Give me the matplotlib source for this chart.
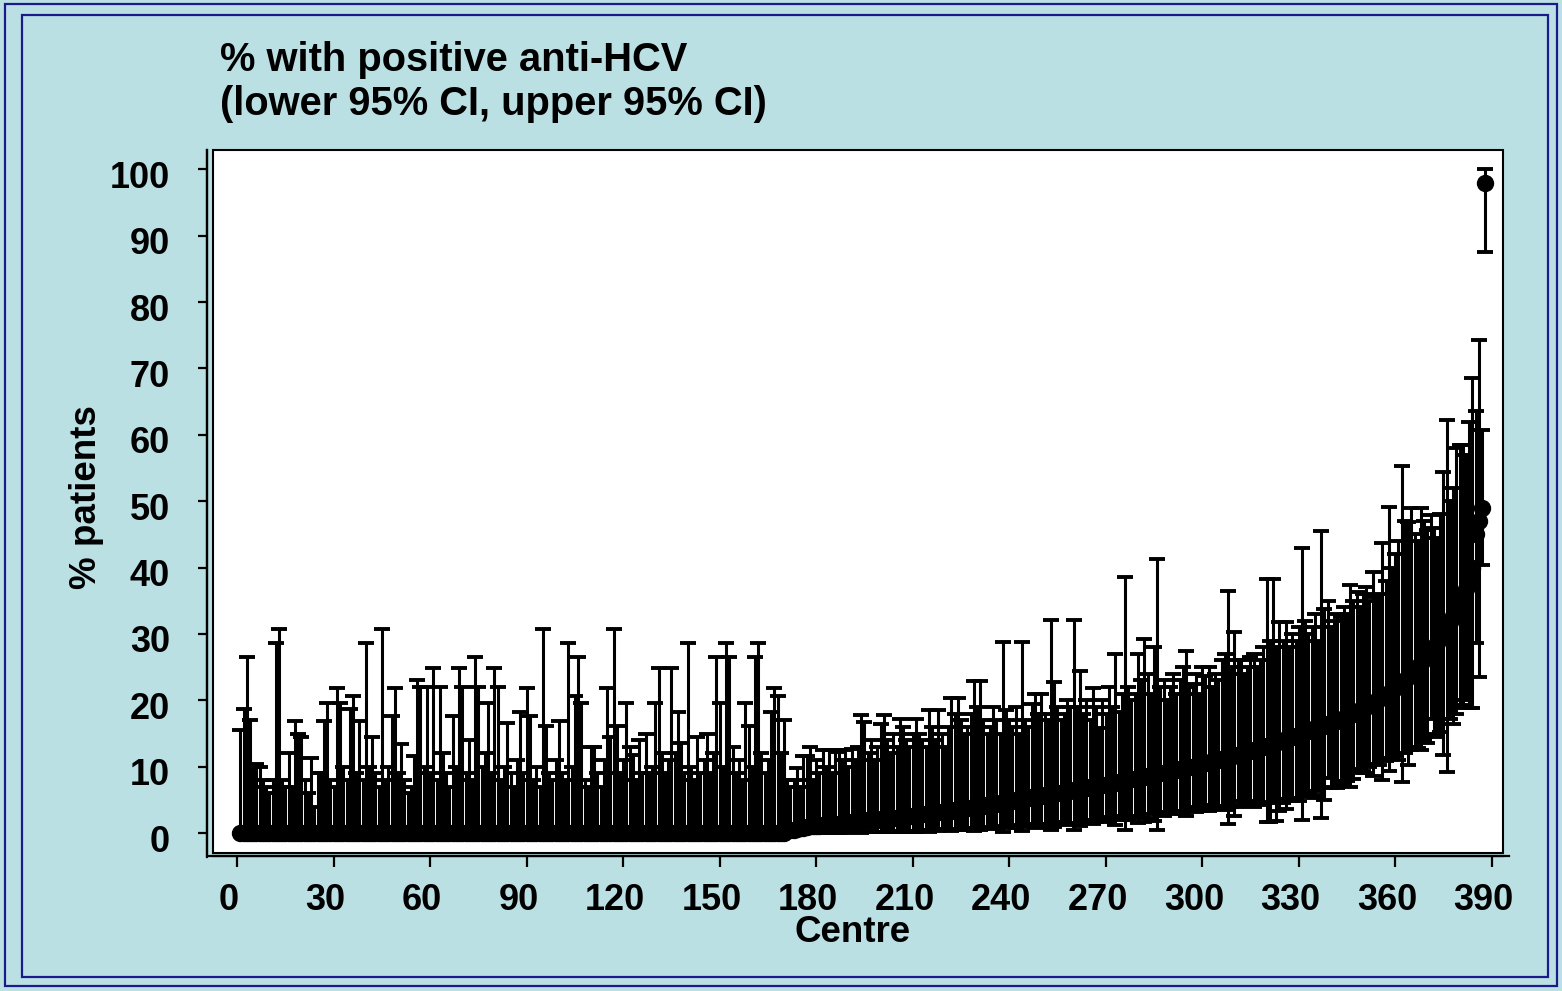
import numpy as np
import matplotlib
matplotlib.use("Agg")
import matplotlib.pyplot as plt
from matplotlib.lines import Line2D
from matplotlib.patches import Rectangle
from matplotlib.transforms import ScaledTranslation

plt.rcParams['font.family'] = ['Liberation Sans', 'DejaVu Sans']
plt.rcParams['font.weight'] = 'bold'

# ---------------- data ----------------
n_zero = 170                      # centres 1..170: 0% positive (point and lower CI at 0)
upper_zero = [
    15.6, 18.7, 26.5, 17.0, 10.0, 10.4, 10.0, 8.0, 7.0, 6.0,
    8.0, 28.6, 30.8, 8.0, 7.0, 12.0, 7.0, 16.9, 15.0, 14.4,
    8.0, 6.0, 11.3, 4.0, 9.0, 9.1, 16.9, 19.6, 8.0, 7.0,
    21.8, 19.6, 10.0, 8.0, 18.7, 20.6, 9.0, 16.9, 8.0, 28.6,
    10.0, 14.4, 9.0, 7.0, 30.8, 8.0, 10.0, 17.7, 21.8, 9.0,
    13.4, 8.0, 6.0, 7.0, 11.6, 23.1, 22.0, 10.0, 22.0, 9.0,
    24.8, 8.0, 22.0, 12.0, 9.0, 7.0, 17.7, 10.0, 24.8, 22.0,
    9.0, 14.0, 8.0, 26.5, 22.0, 10.0, 12.0, 19.6, 9.0, 24.8,
    22.0, 8.0, 10.0, 16.6, 9.0, 7.0, 11.0, 18.3, 9.0, 21.8,
    17.7, 8.0, 10.0, 7.0, 30.8, 16.1, 9.0, 8.0, 11.0, 16.9,
    9.0, 8.0, 28.6, 10.0, 20.6, 26.5, 19.6, 8.0, 7.0, 13.0,
    13.0, 9.0, 7.0, 11.0, 21.8, 14.5, 30.8, 16.1, 9.0, 11.0,
    19.6, 13.0, 11.8, 8.0, 14.0, 9.0, 15.0, 9.0, 10.0, 19.6,
    24.8, 12.0, 9.0, 11.0, 24.8, 12.0, 18.3, 13.5, 9.0, 28.6,
    10.0, 8.0, 14.5, 9.0, 11.0, 15.0, 9.0, 12.0, 26.5, 19.6,
    10.0, 28.6, 26.5, 13.0, 9.0, 11.0, 8.0, 19.6, 16.1, 10.0,
    26.5, 28.6, 12.0, 9.0, 11.0, 18.3, 21.8, 20.6, 12.0, 17.0,
]

# centres 171..388
pct_rising = [
    0.4, 0.5, 0.5, 0.6, 0.7, 0.8, 0.9, 1.0, 1.0, 1.1,
    1.1, 1.2, 1.2, 1.3, 1.3, 1.4, 1.4, 1.5, 1.5, 1.6,
    1.6, 1.7, 1.7, 1.8, 1.8, 1.9, 1.9, 2.0, 2.0, 2.1,
    2.1, 2.2, 2.2, 2.3, 2.3, 2.4, 2.4, 2.5, 2.5, 2.6,
    2.6, 2.7, 2.8, 2.9, 3.0, 3.0, 3.1, 3.2, 3.2, 3.3,
    3.4, 3.4, 3.5, 3.6, 3.6, 3.7, 3.8, 3.8, 3.9, 4.0,
    4.0, 4.1, 4.2, 4.3, 4.3, 4.4, 4.5, 4.6, 4.7, 4.8,
    4.9, 5.0, 5.0, 5.1, 5.2, 5.3, 5.4, 5.5, 5.5, 5.6,
    5.7, 5.8, 5.9, 6.0, 6.0, 6.1, 6.2, 6.3, 6.4, 6.5,
    6.5, 6.6, 6.7, 6.8, 6.9, 7.0, 7.1, 7.1, 7.2, 7.3,
    7.4, 7.5, 7.6, 7.7, 7.8, 7.9, 8.0, 8.1, 8.2, 8.3,
    8.4, 8.5, 8.6, 8.7, 8.8, 8.9, 9.0, 9.1, 9.2, 9.3,
    9.4, 9.5, 9.6, 9.7, 9.8, 9.9, 10.0, 10.1, 10.2, 10.4,
    10.5, 10.6, 10.8, 10.9, 11.0, 11.1, 11.3, 11.4, 11.5, 11.7,
    11.8, 11.9, 12.1, 12.2, 12.4, 12.5, 12.7, 12.8, 13.0, 13.1,
    13.3, 13.4, 13.6, 13.8, 13.9, 14.1, 14.3, 14.5, 14.6, 14.8,
    15.0, 15.2, 15.4, 15.6, 15.8, 16.0, 16.1, 16.2, 16.4, 16.5,
    16.7, 16.9, 17.1, 17.3, 17.5, 17.8, 18.0, 18.3, 18.5, 18.8,
    19.0, 19.3, 19.6, 19.9, 20.2, 20.5, 20.8, 21.1, 21.4, 21.8,
    22.2, 22.6, 23.0, 23.5, 24.0, 24.5, 25.0, 25.6, 26.2, 26.8,
    27.4, 28.0, 28.7, 29.4, 30.2, 31.0, 31.8, 32.7, 33.6, 34.6,
    35.7, 36.8, 38.0, 40.0, 45.0, 47.0, 49.0, 98.0,
]

lower_rising = [
    0.0, 0.0, 0.0, 0.0, 0.0, 0.0, 0.0, 0.0, 0.0, 0.0,
    0.0, 0.0, 0.0, 0.0, 0.1, 0.0, 0.0, 0.1, 0.0, 0.1,
    0.1, 0.1, 0.1, 0.0, 0.1, 0.1, 0.2, 0.1, 0.2, 0.1,
    0.1, 0.2, 0.2, 0.3, 0.2, 0.1, 0.2, 0.3, 0.3, 0.2,
    0.2, 0.3, 0.4, 0.4, 0.2, 0.4, 0.5, 0.3, 0.5, 0.6,
    0.5, 0.3, 0.5, 0.4, 0.6, 0.7, 0.6, 0.5, 0.3, 0.6,
    0.4, 0.7, 0.9, 0.8, 0.6, 0.8, 1.0, 0.2, 0.7, 0.9,
    1.0, 0.8, 1.2, 0.3, 1.1, 1.2, 0.9, 0.8, 1.3, 0.9,
    1.2, 1.4, 0.5, 0.9, 1.3, 1.6, 1.5, 1.2, 1.4, 0.5,
    1.5, 1.0, 1.8, 1.6, 1.9, 1.3, 1.7, 2.4, 1.8, 2.2,
    1.6, 2.1, 1.2, 2.6, 2.0, 0.5, 2.0, 2.5, 2.4, 1.5,
    2.2, 1.6, 2.3, 2.9, 1.8, 0.5, 2.8, 2.6, 3.2, 3.0,
    2.8, 3.4, 3.1, 2.9, 2.5, 3.6, 3.4, 3.2, 3.9, 3.4,
    3.5, 3.3, 4.2, 3.8, 4.1, 3.6, 3.5, 1.4, 3.9, 2.6,
    3.9, 4.2, 4.8, 4.5, 4.2, 4.0, 4.9, 4.7, 4.3, 1.7,
    1.7, 4.6, 1.8, 3.4, 4.5, 3.6, 5.2, 4.9, 5.3, 4.8,
    2.0, 5.4, 6.0, 5.8, 5.3, 6.3, 2.2, 5.0, 8.3, 6.8,
    7.0, 6.8, 7.6, 7.2, 7.8, 7.0, 8.2, 9.7, 9.0, 9.4,
    9.0, 10.0, 8.6, 10.4, 10.2, 8.0, 10.8, 9.4, 11.3, 11.6,
    11.0, 7.7, 12.0, 10.2, 12.5, 13.0, 12.8, 12.5, 14.0, 13.6,
    17.2, 14.5, 15.0, 15.3, 11.7, 9.2, 17.2, 16.5, 18.0, 19.3,
    18.9, 20.0, 18.8, 18.8, 28.6, 23.5, 40.4, 87.6,
]

upper_rising = [
    8.0, 7.0, 8.0, 9.8, 7.0, 11.6, 11.6, 13.0, 8.0, 11.0,
    9.0, 12.5, 10.0, 12.5, 9.0, 12.5, 12.2, 11.0, 12.5, 10.0,
    12.6, 11.0, 13.0, 17.8, 16.8, 12.0, 14.0, 11.0, 13.0, 16.5,
    17.8, 14.0, 12.0, 15.0, 13.0, 17.2, 16.0, 14.0, 13.0, 15.0,
    17.2, 15.0, 14.0, 13.0, 18.5, 16.0, 14.0, 18.5, 15.0, 13.0,
    16.0, 20.4, 18.0, 20.4, 17.0, 15.0, 16.0, 18.0, 22.9, 19.0,
    22.9, 17.0, 15.0, 16.0, 19.0, 17.0, 15.0, 28.8, 18.5, 17.0,
    16.0, 19.0, 15.0, 28.8, 17.0, 16.0, 19.5, 20.9, 18.0, 21.0,
    18.0, 17.0, 32.1, 22.8, 19.0, 17.0, 18.0, 20.0, 19.0, 32.1,
    19.0, 24.4, 18.0, 20.0, 17.0, 21.8, 19.0, 15.8, 20.0, 18.0,
    22.0, 19.0, 27.0, 18.3, 21.0, 38.6, 22.0, 20.0, 21.0, 27.0,
    23.0, 29.3, 24.0, 21.0, 28.0, 41.3, 22.0, 23.0, 20.0, 22.0,
    24.0, 21.0, 23.0, 25.0, 27.5, 22.0, 22.5, 24.0, 21.0, 25.0,
    23.6, 25.0, 22.0, 24.0, 23.0, 26.0, 27.0, 36.4, 25.0, 30.3,
    26.0, 26.0, 24.0, 25.0, 26.5, 27.0, 25.0, 26.0, 28.0, 38.3,
    29.0, 38.3, 28.0, 31.8, 29.0, 31.8, 28.0, 30.0, 29.0, 31.0,
    43.0, 32.0, 30.0, 31.0, 33.0, 29.0, 45.5, 33.8, 35.0, 31.0,
    32.0, 33.0, 32.6, 34.0, 33.0, 37.3, 35.0, 36.3, 34.0, 36.0,
    37.0, 35.0, 39.3, 35.6, 36.0, 43.7, 38.0, 49.1, 40.0, 42.0,
    44.0, 55.3, 47.0, 46.8, 49.0, 45.0, 44.0, 49.0, 47.0, 45.6,
    47.9, 46.0, 44.5, 48.0, 54.4, 62.2, 50.0, 52.0, 58.0, 58.5,
    58.5, 57.0, 62.0, 68.6, 63.6, 74.3, 60.7, 100.0,
]

x_ticks = list(range(0, 391, 30))
y_ticks = list(range(0, 101, 10))
title_lines = ['% with positive anti-HCV', '(lower 95% CI, upper 95% CI)']
x_label = 'Centre'
y_label = '% patients'

pct = np.array([0.0] * n_zero + pct_rising)
lower = np.array([0.0] * n_zero + lower_rising)
upper = np.array(upper_zero + upper_rising)
centre = np.arange(1, len(pct) + 1)

# ---------------- layout helpers ----------------
W, H, DPI = 1562, 991, 100
def fx(px): return px / W
def fy(py): return 1 - py / H
PT = 72 / DPI   # points per pixel

fig = plt.figure(figsize=(W / DPI, H / DPI), dpi=DPI)
bg = '#BAE0E4'
fig.patch.set_facecolor(bg)

# double dark-blue frame
for (x0, y0, x1, y1) in [(5, 4, 1557, 986), (22, 15, 1548, 977)]:
    fig.add_artist(Rectangle((fx(x0), fy(y1)), fx(x1) - fx(x0), fy(y0) - fy(y1),
                             transform=fig.transFigure, fill=False,
                             edgecolor='#1A1A8A', lw=1.6))

ax = fig.add_axes([fx(213), fy(853), fx(1503) - fx(213), fy(150) - fy(853)])
ax.set_facecolor('white')

ax.errorbar(centre, pct, yerr=[pct - lower, upper - pct], fmt='o',
            color='black', ecolor='black', ms=11.5, elinewidth=2.2,
            capsize=6, capthick=2.8, zorder=3)

ax.set_xlim(-7.5, 393.5)
ax.set_ylim(-3.0, 102.9)

# box around plotting area
ax.add_patch(Rectangle((0, 0), 1, 1, transform=ax.transAxes, fill=False,
                       edgecolor='black', lw=1.5, zorder=5, clip_on=False))
ax.spines['top'].set_visible(False)
ax.spines['right'].set_visible(False)
ax.spines['left'].set_position(('outward', 6 * PT))
ax.spines['bottom'].set_position(('outward', 3 * PT))
for s in ['left', 'bottom']:
    ax.spines[s].set_linewidth(1.6)

# extensions of detached axis lines
fig.add_artist(Line2D([fx(207), fx(207)], [fy(150), fy(857)], transform=fig.transFigure,
                      color='black', lw=1.6))
fig.add_artist(Line2D([fx(207), fx(1509)], [fy(856), fy(856)], transform=fig.transFigure,
                      color='black', lw=1.6))

ax.set_xticks(x_ticks)
ax.set_yticks(y_ticks)
ax.tick_params(axis='y', direction='out', length=9 * PT, width=1.6, pad=20,
               labelsize=26)
ax.tick_params(axis='x', direction='out', length=11 * PT, width=1.6, pad=11.5,
               labelsize=26)
for lab in ax.get_xticklabels():
    lab.set_fontweight('bold')
    lab.set_transform(lab.get_transform() + ScaledTranslation(-8 / DPI, 0, fig.dpi_scale_trans))
for lab in ax.get_yticklabels():
    lab.set_fontweight('bold')
    lab.set_transform(lab.get_transform() + ScaledTranslation(0, -5 / DPI, fig.dpi_scale_trans))

fig.text(fx(87), fy(497), y_label, rotation=90, ha='center', va='center',
         fontsize=26.5, fontweight='bold')
fig.text(fx(853), fy(932), x_label, ha='center', va='center',
         fontsize=26.5, fontweight='bold')
fig.text(fx(220), fy(71), title_lines[0], ha='left', va='baseline',
         fontsize=28.7, fontweight='bold')
fig.text(fx(220), fy(115), title_lines[1], ha='left', va='baseline',
         fontsize=28.7, fontweight='bold')

fig.savefig('out.png', dpi=DPI, facecolor=fig.get_facecolor())
